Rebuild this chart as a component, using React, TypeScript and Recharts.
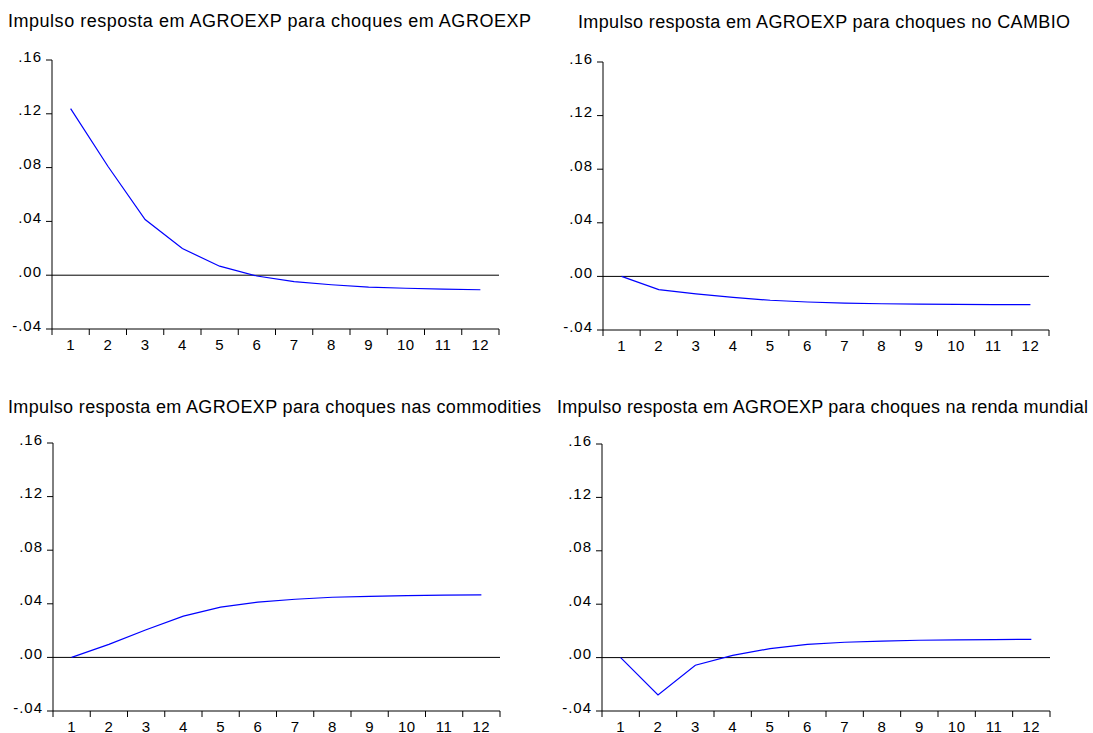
import { LineChart, Line, XAxis, YAxis, ReferenceLine } from "recharts";

// periods 1..12 of the impulse responses
const PERIODS = [1, 2, 3, 4, 5, 6, 7, 8, 9, 10, 11, 12];

// responses of AGROEXP
const RESP_AGROEXP = [0.1239, 0.081, 0.0414, 0.0198, 0.0067, -0.0006, -0.0048, -0.0071, -0.0088, -0.0097, -0.0103, -0.0108];
const RESP_CAMBIO = [0, -0.0099, -0.0131, -0.0157, -0.0178, -0.0191, -0.0199, -0.0204, -0.0207, -0.0209, -0.021, -0.0211];
const RESP_COMMODITIES = [0, 0.0097, 0.0206, 0.0308, 0.0375, 0.0412, 0.0434, 0.0449, 0.0456, 0.0461, 0.0464, 0.0467];
const RESP_RENDA = [0, -0.0279, -0.0057, 0.0017, 0.0067, 0.0099, 0.0115, 0.0124, 0.013, 0.0133, 0.0135, 0.0137];

const Y_TICKS = [-0.04, 0, 0.04, 0.08, 0.12, 0.16];

const TITLES = [
  "Impulso resposta em AGROEXP para choques em AGROEXP",
  "Impulso resposta em AGROEXP para choques no CAMBIO",
  "Impulso resposta em AGROEXP para choques nas commodities",
  "Impulso resposta em AGROEXP para choques na renda mundial",
];

const FONT = "'Liberation Sans', Arial, sans-serif";

// x ticks: integers get a label, half steps get the little tick mark
const X_TICKS = PERIODS.flatMap((p) => [p - 0.5, p]).concat(PERIODS[PERIODS.length - 1] + 0.5);

const fmtY = (v: number) => (v < 0 ? "-" : "") + Math.abs(v).toFixed(2).replace(/^0/, "");

const XTick = (props: any) => {
  const { x, y, payload } = props;
  const v = payload.value;
  if (Number.isInteger(v)) {
    return (
      <text x={x} y={y + 21} textAnchor="middle" fontSize={15} fontFamily={FONT} fill="#000" letterSpacing={0.5}>
        {v}
      </text>
    );
  }
  return <line x1={x} x2={x} y1={y} y2={y + 6} stroke="#000" />;
};

const YTick = (props: any) => {
  const { x, y, payload } = props;
  return (
    <text x={x} y={y + 1.5} textAnchor="end" fontSize={15} fontFamily={FONT} fill="#000" letterSpacing={1}>
      {fmtY(payload.value)}
    </text>
  );
};

type Box = { left: number; top: number; right: number; bottom: number };

const PAD_TOP = 20;

function Panel({ values, box }: { values: number[]; box: Box }) {
  const data = PERIODS.map((p, i) => ({ p, v: values[i] }));
  const yW = 52;
  const w = box.right - box.left + yW + 10;
  const h = box.bottom - box.top + PAD_TOP + 30;
  return (
    <div style={{ position: "absolute", left: box.left - yW, top: box.top - PAD_TOP }}>
      <LineChart width={w} height={h} data={data} margin={{ top: PAD_TOP, right: 10, bottom: 0, left: 0 }}>
        <XAxis
          dataKey="p"
          type="number"
          domain={[0.5, 12.5]}
          ticks={X_TICKS}
          interval={0}
          tickSize={0}
          tickMargin={0}
          tickLine={false}
          tick={<XTick />}
          height={30}
          axisLine={{ stroke: "#000" }}
          allowDataOverflow
        />
        <XAxis
          xAxisId="top"
          orientation="top"
          type="number"
          domain={[0.5, 12.5]}
          height={0}
          tick={false}
          tickLine={false}
          axisLine={{ stroke: "#000" }}
        />
        <YAxis
          type="number"
          domain={[-0.04, 0.16]}
          ticks={Y_TICKS}
          interval={0}
          width={yW}
          tickSize={6}
          tickMargin={4}
          tickLine={{ stroke: "#000" }}
          axisLine={{ stroke: "#000" }}
          tick={<YTick />}
          allowDataOverflow
        />
        <YAxis
          yAxisId="right"
          orientation="right"
          type="number"
          domain={[-0.04, 0.16]}
          width={0}
          tick={false}
          tickLine={false}
          axisLine={{ stroke: "#000" }}
        />
        <ReferenceLine y={0} stroke="#000" strokeWidth={1} />
        <Line
          type="linear"
          dataKey="v"
          stroke="#0000FF"
          strokeWidth={1.2}
          dot={false}
          isAnimationActive={false}
        />
      </LineChart>
    </div>
  );
}

export default function App() {
  const panels = [
    { values: RESP_AGROEXP, box: { left: 52, top: 60, right: 499, bottom: 329 }, tx: 8, ty: 27, tw: 523 },
    { values: RESP_CAMBIO, box: { left: 603, top: 62, right: 1049, bottom: 330 }, tx: 578, ty: 28, tw: 492 },
    { values: RESP_COMMODITIES, box: { left: 53, top: 443, right: 500, bottom: 711 }, tx: 8, ty: 413, tw: 533 },
    { values: RESP_RENDA, box: { left: 602, top: 444, right: 1050, bottom: 711 }, tx: 557, ty: 413, tw: 531 },
  ];
  return (
    <div style={{ position: "absolute", left: 0, top: 0, width: 1093, height: 733, background: "#fff" }}>
      {panels.map((p, i) => (
        <Panel key={i} values={p.values} box={p.box} />
      ))}
      <svg width={1093} height={733} style={{ position: "absolute", left: 0, top: 0, pointerEvents: "none" }}>
        {panels.map((p, i) => (
          <text
            key={i}
            x={p.tx}
            y={p.ty}
            fontSize={18}
            fontFamily={FONT}
            fill="#000"
            textLength={p.tw}
            lengthAdjust="spacing"
          >
            {TITLES[i]}
          </text>
        ))}
      </svg>
    </div>
  );
}
